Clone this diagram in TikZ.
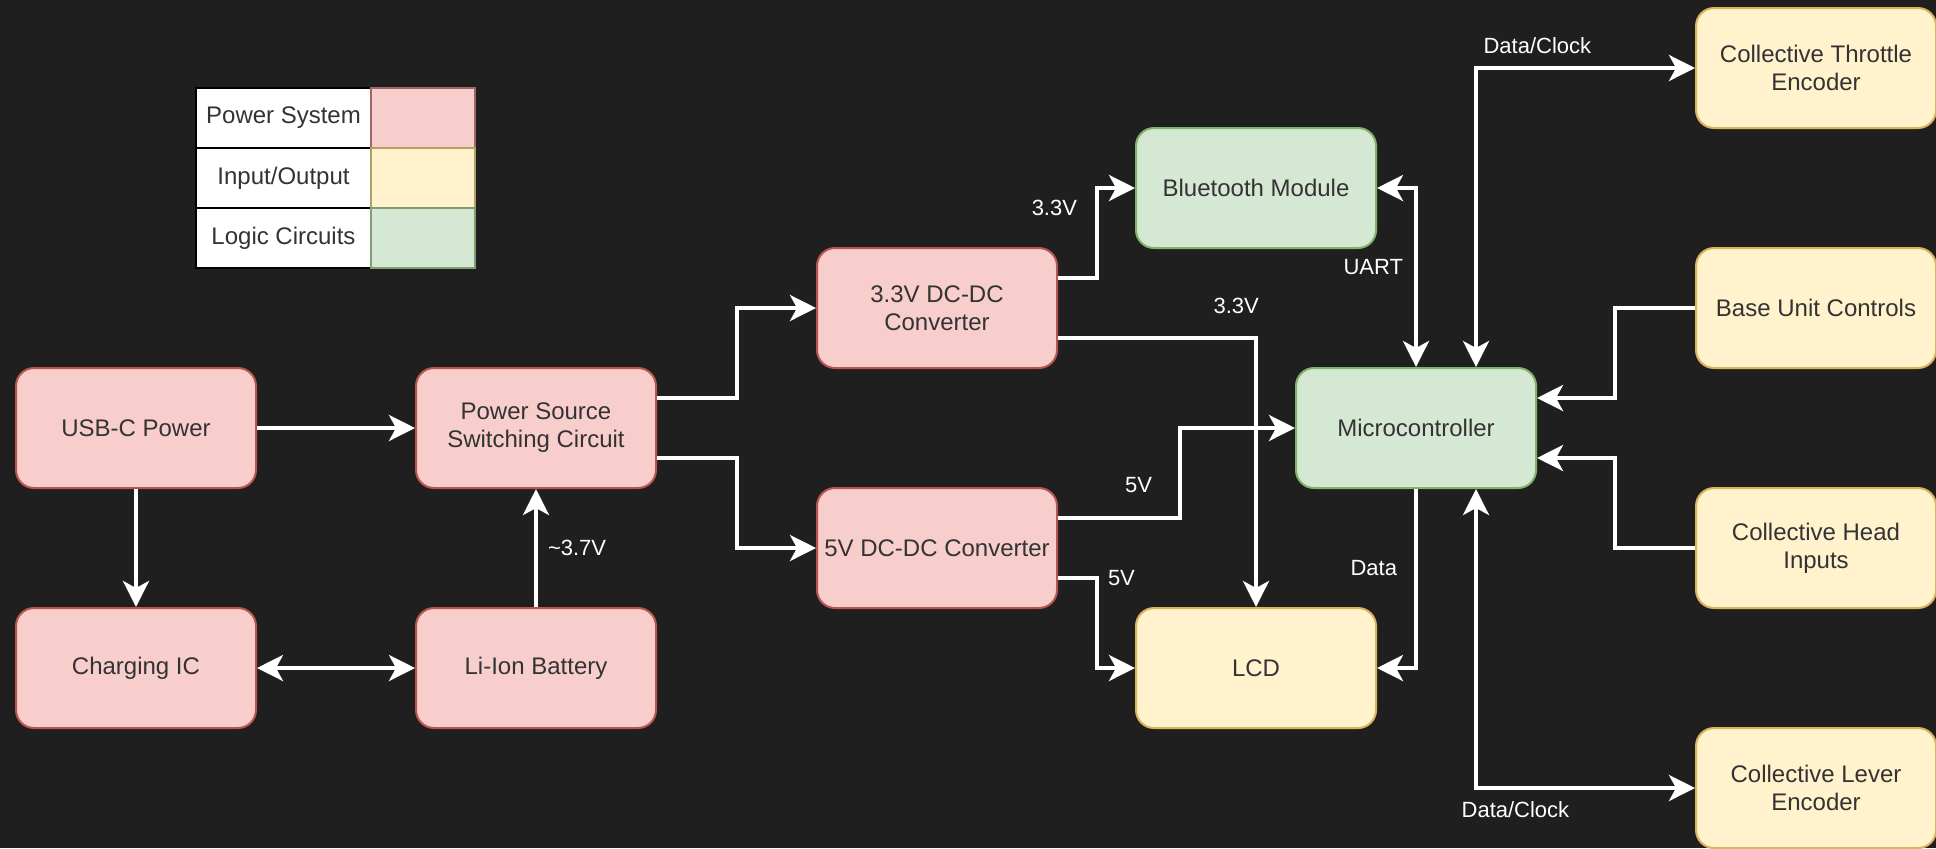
\documentclass[tikz,border=0pt]{standalone}
\usepackage{fontspec}
\setmainfont{Liberation Sans}
\usetikzlibrary{arrows.meta,calc}

\definecolor{bgcol}{HTML}{1F1F1F}
\definecolor{pwrfill}{HTML}{F8CECC}
\definecolor{pwrline}{HTML}{B85450}
\definecolor{iofill}{HTML}{FFF2CC}
\definecolor{ioline}{HTML}{D6B656}
\definecolor{logfill}{HTML}{D5E8D4}
\definecolor{logline}{HTML}{82B366}
\definecolor{txtcol}{HTML}{333333}

\begin{document}
\begin{tikzpicture}[x=0.5pt, y=-0.5pt,
  >={Stealth[length=13pt,width=13pt,inset=3.5pt]},
  blk/.style={draw, rounded corners=9pt, line width=1pt, minimum width=120pt,
    minimum height=60pt, align=center, text=txtcol, font=\fontsize{12}{14}\selectfont},
  pwr/.style={blk, fill=pwrfill, draw=pwrline},
  io/.style={blk, fill=iofill, draw=ioline},
  logic/.style={blk, fill=logfill, draw=logline},
  wire/.style={white, line width=2pt, ->},
  wire2/.style={white, line width=2pt, <->},
  lbl/.style={white, inner sep=1pt, font=\fontsize{11}{13}\selectfont},
  legtxt/.style={draw=black, fill=white, line width=1pt, minimum width=87.5pt,
    minimum height=30pt, text=txtcol, font=\fontsize{12}{14}\selectfont},
  legcol/.style={line width=0.6pt, minimum width=52pt, minimum height=30pt}]

\fill [bgcol] (0,0) rectangle (1936,848);
\useasboundingbox (0,0) rectangle (1936,848);

% legend
\node [legtxt] (lgpow) at (283.5,118) {Power System};
\node [legtxt] (lgio) at (283.5,178) {Input/Output};
\node [legtxt] (lglog) at (283.5,238) {Logic Circuits};
\node [legcol, fill=pwrfill, draw=pwrline!60!gray] (cpow) at (423,118) {};
\node [legcol, fill=iofill, draw=ioline!60!gray] (cio) at (423,178) {};
\node [legcol, fill=logfill, draw=logline!60!gray] (clog) at (423,238) {};

% power system
\node [pwr] (usb) at (136,428) {USB-C Power};
\node [pwr] (chg) at (136,668) {Charging IC};
\node [pwr] (sw) at (536,428) {Power Source\\Switching Circuit};
\node [pwr] (bat) at (536,668) {Li-Ion Battery};
\node [pwr] (c33) at (937,308) {3.3V DC-DC\\Converter};
\node [pwr] (c5) at (937,548) {5V DC-DC Converter};

% logic and i/o
\node [logic] (bt) at (1256,188) {Bluetooth Module};
\node [logic] (mcu) at (1416,428) {Microcontroller};
\node [io] (lcd) at (1256,668) {LCD};
\node [io] (thr) at (1816,68) {Collective Throttle\\Encoder};
\node [io] (base) at (1816,308) {Base Unit Controls};
\node [io] (head) at (1816,548) {Collective Head\\Inputs};
\node [io] (lev) at (1816,788) {Collective Lever\\Encoder};

% power paths
\draw [wire] (usb) -- (sw);
\draw [wire] (usb) -- (chg);
\draw [wire2] (chg) -- (bat);
\draw [wire] (bat) -- node [lbl, right=4pt] {\textasciitilde3.7V} (sw);
\draw [wire] ($(sw.east)+(0,-30)$) -- ++(80,0) |- (c33.west);
\draw [wire] ($(sw.east)+(0,30)$) -- ++(80,0) |- (c5.west);
\draw [wire] ($(c33.east)+(0,-30)$) -- ++(39,0) -- ++(0,-90) node [lbl, pos=.78, left=8pt] {3.3V} -- (bt.west);
\draw [wire] ($(c33.east)+(0,30)$) -| node [lbl, pos=.45, above=10pt] {3.3V} (lcd.north);
\draw [wire] ($(c5.east)+(0,-30)$) -- ++(122,0) node [lbl, pos=.66, above=10.5pt] {5V} |- (mcu.west);
\draw [wire] ($(c5.east)+(0,30)$) -- ++(39,0) node [lbl, right=3.5pt] {5V} |- (lcd.west);

% signals
\draw [wire2] (bt.east) -| node [lbl, pos=.72, left=4.5pt] {UART} (mcu.north);
\draw [wire2] ($(mcu.north)+(60,0)$) |- node [lbl, pos=.64, above=5pt] {Data/Clock} (thr.west);
\draw [wire] (base.west) -- ++(-80,0) |- ($(mcu.east)+(0,-30)$);
\draw [wire] (head.west) -- ++(-80,0) |- ($(mcu.east)+(0,30)$);
\draw [wire] (mcu.south) |- node [lbl, pos=.22, left=7.5pt] {Data} (lcd.east);
\draw [wire2] ($(mcu.south)+(60,0)$) |- node [lbl, pos=.59, below=5pt] {Data/Clock} (lev.west);
\end{tikzpicture}
\end{document}
